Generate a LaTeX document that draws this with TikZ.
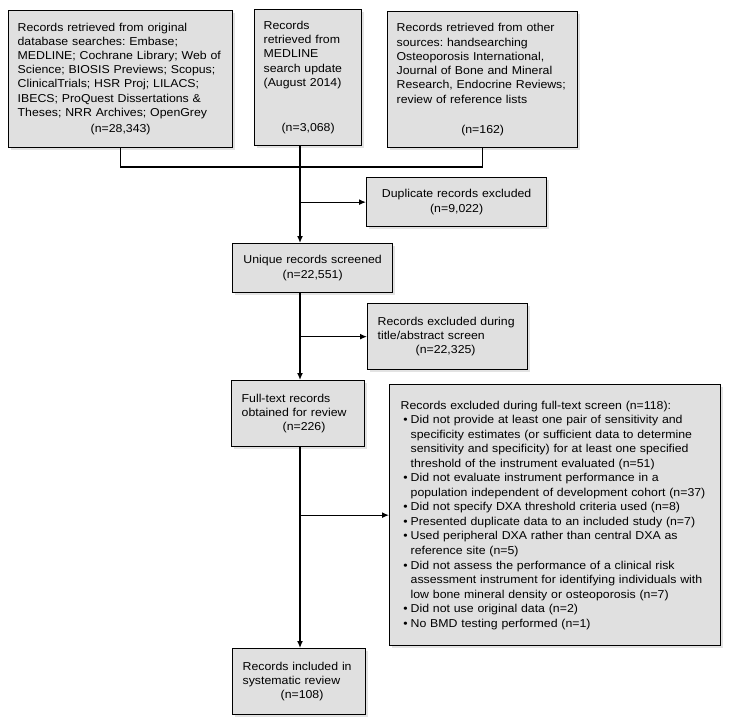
\documentclass[tikz,border=0pt]{standalone}
\usepackage{fontspec}
\setmainfont{Liberation Sans}[FakeStretch=1.075]
\usetikzlibrary{
arrows.meta,
calc,
positioning,
shadows
}
\tikzset{>={Latex[length=7bp,width=6bp]}}

\begin{document}
\frenchspacing
\begin{tikzpicture}[x=1bp,y=-1bp,
	rec/.style={draw,line width=1.3bp,fill=black!12,anchor=north west,align=left,
		inner xsep=9bp,inner ysep=2bp,font=\fontsize{11.5}{14.3}\selectfont,
		drop shadow={shadow xshift=2bp,shadow yshift=-2bp,fill=black!22}},
	conn/.style={line width=1.3bp}]
		\def\ctr{\hspace*{\fill}}
		\useasboundingbox (0,0) rectangle (729,726);
		
		% sources
		\node[rec,text width=206bp,minimum height=137bp,font=\fontsize{11.5}{14.2}\selectfont] at (8,10) (orig) {Records retrieved from original\\
			database searches: Embase;\\
			MEDLINE; Cochrane Library; Web of\\
			Science; BIOSIS Previews; Scopus;\\
			ClinicalTrials; HSR Proj; LILACS;\\
			IBECS; ProQuest Dissertations \&\\
			Theses; NRR Archives; OpenGrey\\[2.5bp]
			\ctr(n=28,343)\ctr\mbox{}};
		\node[rec,text width=89bp,minimum height=136bp] at (254,9) (update) {Records\\
			retrieved from\\
			MEDLINE\\
			search update\\
			(August 2014)\\[31bp]
			\ctr(n=3,068)\ctr\mbox{}};
		\node[rec,text width=172bp,minimum height=136bp] at (387,11) (other) {Records retrieved from other\\
			sources: handsearching\\
			Osteoporosis International,\\
			Journal of Bone and Mineral\\
			Research, Endocrine Reviews;\\
			review of reference lists\\[16bp]
			\ctr(n=162)\ctr\mbox{}};
		
		% screening
		\node[rec,align=center,text width=162bp,minimum height=49bp] at (366,177) (dupl) {Duplicate records excluded\\(n=9,022)};
		\node[rec,align=center,text width=142bp,minimum height=49bp] at (232,243) (unique) {Unique records screened\\(n=22,551)};
		\node[rec,text width=140bp,minimum height=66bp,inner xsep=10bp] at (367,303) (tiabs) {Records excluded during\\
			title/abstract screen\\
			\hspace*{38bp}(n=22,325)};
		\node[rec,text width=113bp,minimum height=66bp,inner xsep=10bp] at (231,380) (fulltext) {Full-text records\\
			obtained for review\\
			\hspace*{41bp}(n=226)};
		\node[rec,text width=309bp,minimum height=261bp,inner xsep=11bp,font=\fontsize{11.5}{14.6}\selectfont] at (389,384) (ftexcl) {Records excluded during full-text screen (n=118):
			\begin{list}{\textbullet}{\setlength{\leftmargin}{10bp}\setlength{\labelwidth}{6bp}\setlength{\labelsep}{3bp}%
				\setlength{\itemsep}{0pt}\setlength{\parsep}{0pt}\setlength{\topsep}{0pt}\setlength{\partopsep}{0pt}}
			\item Did not provide at least one pair of sensitivity and\\
				specificity estimates (or sufficient data to determine\\
				sensitivity and specificity) for at least one specified\\
				threshold of the instrument evaluated (n=51)
			\item Did not evaluate instrument performance in a\\
				population independent of development cohort (n=37)
			\item Did not specify DXA threshold criteria used (n=8)
			\item Presented duplicate data to an included study (n=7)
			\item Used peripheral DXA rather than central DXA as\\
				reference site (n=5)
			\item Did not assess the performance of a clinical risk\\
				assessment instrument for identifying individuals with\\
				low bone mineral density or osteoporosis (n=7)
			\item Did not use original data (n=2)
			\item No BMD testing performed (n=1)
			\end{list}};
		\node[rec,text width=113bp,minimum height=66bp,inner xsep=10bp] at (232,648) (incl) {Records included in\\
			systematic review\\
			\hspace*{38bp}(n=108)};
		
		% connectors
		\coordinate (spine) at (300,0);
		\coordinate (join) at (300,167);
		\draw[conn] (orig.south) |- (join) -| (other.south);
		\draw[conn,->] (spine |- update.south) -- (spine |- unique.north);
		\draw[conn,->] (spine |- dupl.west) -- (dupl.west);
		\draw[conn,->] (spine |- unique.south) -- (spine |- fulltext.north);
		\draw[conn,->] (spine |- tiabs.west) -- (tiabs.west);
		\draw[conn,->] (spine |- fulltext.south) -- (spine |- incl.north);
		\draw[conn,->] (spine |- ftexcl.west) -- (ftexcl.west);
\end{tikzpicture}
\end{document}
